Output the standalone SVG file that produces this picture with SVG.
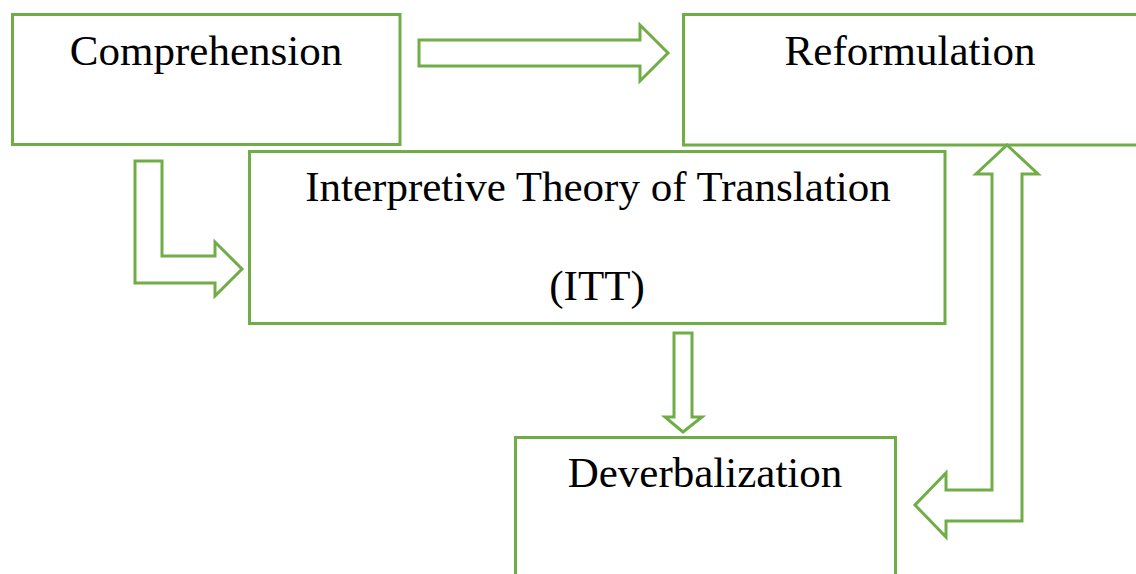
<svg xmlns="http://www.w3.org/2000/svg" width="1136" height="574" viewBox="0 0 1136 574">
<style>
.box{fill:#fff;stroke:#70AD47;stroke-width:3}
.arr{fill:#fff;stroke:#70AD47;stroke-width:3;stroke-linejoin:miter}
.t{font-family:"Liberation Serif","Times New Roman",serif;font-size:43px;fill:#000;text-anchor:middle}
</style>
<rect width="1136" height="574" fill="#fff"/>
<g id="comprehension">
<rect class="box" x="12.5" y="14.5" width="387.5" height="130"/>
<text class="t" x="206" y="65">Comprehension</text>
</g>
<g id="reformulation">
<rect class="box" x="683.5" y="14.5" width="470" height="130.5"/>
<text class="t" x="910" y="65">Reformulation</text>
</g>
<g id="itt">
<rect class="box" x="249.5" y="151.5" width="695.5" height="172"/>
<text class="t" x="598" y="201">Interpretive Theory of Translation</text>
<text class="t" x="597" y="300">(ITT)</text>
</g>
<g id="deverbalization">
<rect class="box" x="515.5" y="437.5" width="380" height="160"/>
<text class="t" x="705" y="487">Deverbalization</text>
</g>
<g id="connectors">
<polygon class="arr" points="419,40 640,40 640,25 668,53 640,81 640,66 419,66"/>
<polygon class="arr" points="135,161 162,161 162,256 215,256 215,242 242,269 215,296 215,283 135,283"/>
<polygon class="arr" points="674,333 692,333 692,417 702,417 683,432 665,417 674,417"/>
<polygon class="arr" points="1007,145 1038,174 1022,174 1022,521 946,521 946,537 915,505 946,473 946,490 992,490 992,174 976,174"/>
</g>
</svg>
